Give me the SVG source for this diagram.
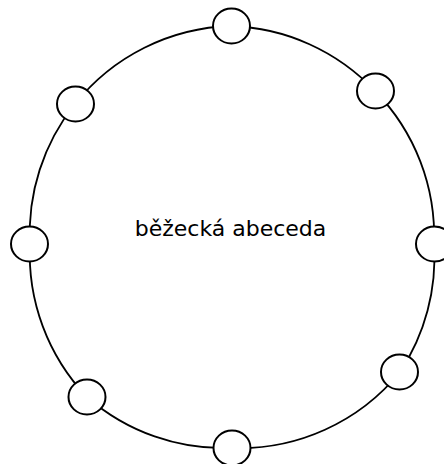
<svg xmlns="http://www.w3.org/2000/svg" width="444" height="464" viewBox="0 0 444 464">
<style>
.edge{fill:none;stroke:#000;stroke-width:1.8}
.node ellipse{fill:#fff;stroke:#000;stroke-width:2}
.label{font-family:"DejaVu Sans",Verdana,sans-serif;font-size:22px;fill:#000}
</style>
<rect width="444" height="464" fill="#fff"/>
<g id="connectors">
<path class="edge" d="M231,26 A207,207 0 0 1 375,91"/>
<path class="edge" d="M375,91 A207,207 0 0 1 434,244"/>
<path class="edge" d="M434,244 A207,207 0 0 1 400,372"/>
<path class="edge" d="M400,372 A207,207 0 0 1 232,448"/>
<path class="edge" d="M232,448 A207,207 0 0 1 87,397"/>
<path class="edge" d="M87,397 A207,207 0 0 1 30,244"/>
<path class="edge" d="M30,244 A207,207 0 0 1 75,104"/>
<path class="edge" d="M75,104 A207,207 0 0 1 231,26"/>
</g>
<g id="center"><text class="label" x="230.5" y="236" text-anchor="middle">běžecká abeceda</text></g>
<g id="n1" class="node"><ellipse cx="231.5" cy="26" rx="18.5" ry="17.5"/></g>
<g id="n2" class="node"><ellipse cx="375.5" cy="91" rx="18.5" ry="17.5"/></g>
<g id="n3" class="node"><ellipse cx="434.5" cy="244" rx="18.5" ry="17.5"/></g>
<g id="n4" class="node"><ellipse cx="399.5" cy="372" rx="18.5" ry="17.5"/></g>
<g id="n5" class="node"><ellipse cx="232" cy="448" rx="18.5" ry="17.5"/></g>
<g id="n6" class="node"><ellipse cx="87" cy="397" rx="18.5" ry="17.5"/></g>
<g id="n7" class="node"><ellipse cx="29.5" cy="244" rx="18.5" ry="17.5"/></g>
<g id="n8" class="node"><ellipse cx="75.5" cy="104" rx="18.5" ry="17.5"/></g>
</svg>
